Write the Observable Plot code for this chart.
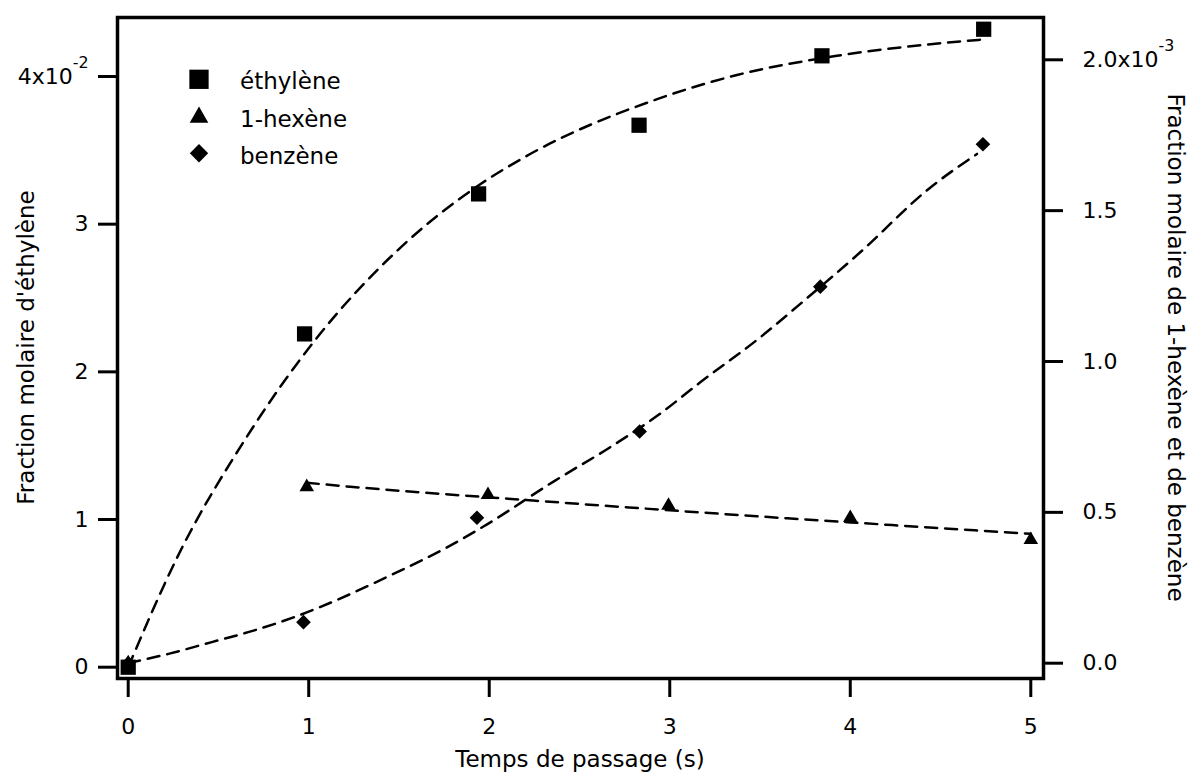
<!DOCTYPE html>
<html><head><meta charset="utf-8">
<script src="https://cdn.jsdelivr.net/npm/d3@7"></script>
<script src="https://cdn.jsdelivr.net/npm/@observablehq/plot@0.6"></script>
<style>
body{margin:0;background:#fff;}
#wrap{position:relative;width:1193px;height:775px;}
</style></head><body><div id="wrap"></div>
<script>
// ---- measured points ----
const ethTime = [0, 0.977, 1.941, 2.83, 3.843, 4.739];
const ethFrac = [0, 0.02257, 0.03205, 0.0367, 0.0414, 0.0432];          // left axis
const hexTime = [0, 0.989, 1.993, 2.993, 4.0, 5.0];
const hexFrac = [0, 0.584e-3, 0.558e-3, 0.5225e-3, 0.482e-3, 0.409e-3]; // right axis
const benTime = [0, 0.971, 1.932, 2.833, 3.834, 4.735];
const benFrac = [0, 0.136e-3, 0.482e-3, 0.768e-3, 1.248e-3, 1.72e-3];   // right axis

// ---- dashed fit curves, read along the dashes ----
const ethFitTime = [0, 0.27, 0.657, 1.032, 1.507, 1.95, 2.19, 2.938, 3.372, 3.926, 4.73];
const ethFitFrac = [0, 0.0074, 0.0156, 0.0221, 0.0284, 0.0327, 0.0345, 0.0385, 0.0401, 0.0414, 0.0425];
const hexFitTime = [0.989, 1.23, 2.245, 3.41, 5.0];
const hexFitFrac = [0.598e-3, 0.585e-3, 0.539e-3, 0.49e-3, 0.429e-3];
const benFitTime = [0, 0.223, 0.463, 0.694, 0.916, 1.47, 1.766, 1.968, 2.356, 2.67, 2.94, 3.169, 3.501, 3.723, 4.055, 4.434, 4.702];
const benFitFrac = [0, 0.031e-3, 0.07e-3, 0.108e-3, 0.152e-3, 0.296e-3, 0.384e-3, 0.453e-3, 0.602e-3, 0.716e-3, 0.824e-3, 0.931e-3, 1.08e-3, 1.191e-3, 1.362e-3, 1.572e-3, 1.688e-3];

// ---- ticks ----
const xTicks = [0, 1, 2, 3, 4, 5];
const leftTicks = [0, 0.01, 0.02, 0.03, 0.04];
const leftTickLabels = ["0", "1", "2", "3", "4x10^-2"];
const rightTicks = [0, 0.5e-3, 1.0e-3, 1.5e-3, 2.0e-3];
const rightTickLabels = ["0.0", "0.5", "1.0", "1.5", "2.0x10^-3"];

const seriesNames = ["éthylène", "1-hexène", "benzène"];

// ---- scales ----
const xDomain = [-0.0593, 5.0704];
const leftDomain = [-0.000765, 0.043995];
const rightDomain = [-0.0507e-3, 2.1402e-3];
const toLeft = v => leftDomain[0] + (v - rightDomain[0]) / (rightDomain[1] - rightDomain[0]) * (leftDomain[1] - leftDomain[0]);

const W = 1193, H = 775, mL = 117, mR = 150, mT = 17, mB = 97;
const FONT = "DejaVu Sans, sans-serif";

const zipL = (xs, ys) => xs.map((x, i) => ({x, y: ys[i]}));
const zipR = (xs, ys) => xs.map((x, i) => ({x, y: toLeft(ys[i])}));

const eth = zipL(ethTime, ethFrac), hex = zipR(hexTime, hexFrac), ben = zipR(benTime, benFrac);
const ethFit = zipL(ethFitTime, ethFitFrac), hexFit = zipR(hexFitTime, hexFitFrac), benFit = zipR(benFitTime, benFitFrac);

const leftLab = new Map(leftTicks.map((t, i) => [t, leftTickLabels[i]]));
const rightTicksL = rightTicks.map(toLeft);
const rightLab = new Map(rightTicksL.map((t, i) => [t, rightTickLabels[i]]));

const dash = {x: "x", y: "y", curve: "monotone-x", stroke: "black", strokeWidth: 2.5, strokeDasharray: "12,8"};

const svg = Plot.plot({
  width: W, height: H, marginLeft: mL, marginRight: mR, marginTop: mT, marginBottom: mB,
  style: {fontFamily: FONT, fontSize: "22px", color: "black", background: "white"},
  x: {domain: xDomain},
  y: {domain: leftDomain},
  marks: [
    Plot.axisX({ticks: xTicks, tickSize: 19, tickPadding: 21, strokeWidth: 3, tickFormat: d => String(d), label: null, fontSize: 22}),
    Plot.axisY({ticks: leftTicks, tickSize: 19, tickPadding: 10, strokeWidth: 3, tickFormat: d => leftLab.get(d), label: null, fontSize: 22}),
    Plot.axisY({anchor: "right", ticks: rightTicksL, tickSize: 19, tickPadding: 20, strokeWidth: 3, tickFormat: d => rightLab.get(d), label: null, fontSize: 22}),
    Plot.line(ethFit, dash),
    Plot.line(hexFit, dash),
    Plot.line(benFit, dash),
    Plot.dot(eth, {x: "x", y: "y", symbol: "square", r: 8.6, fill: "black", stroke: "none"}),
    Plot.dot(hex, {x: "x", y: "y", symbol: "triangle", r: 5.4, fill: "black", stroke: "none"}),
    Plot.dot(ben, {x: "x", y: "y", symbol: "diamond2", r: 6.6, fill: "black", stroke: "none"}),
    Plot.frame({stroke: "black", strokeWidth: 3.5})
  ]
});
document.getElementById("wrap").append(svg);

const s = d3.select(svg);
// superscripts in tick labels
s.selectAll("text").each(function () {
  const t = d3.select(this);
  const str = t.text();
  if (str.includes("^")) {
    const [base, sup] = str.split("^");
    t.text(null);
    t.append("tspan").text(base);
    t.append("tspan").attr("dy", "-1.0em").attr("font-size", "0.72em").text(sup);
  }
});

const cx = (mL + (W - mR)) / 2, cy = (mT + (H - mB)) / 2;
const g = s.append("g").attr("font-family", FONT).attr("font-size", 23).attr("fill", "black").attr("text-anchor", "middle");
g.append("text").attr("x", cx).attr("y", 767).text("Temps de passage (s)");
g.append("text").attr("transform", `translate(26,${cy}) rotate(-90)`).attr("dy", "0.35em").text("Fraction molaire d'éthylène");
g.append("text").attr("transform", `translate(1176,${cy}) rotate(90)`).attr("dy", "0.35em").text("Fraction molaire de 1-hexène et de benzène");

// legend
const legSyms = [d3.symbolSquare, d3.symbolTriangle, d3.symbolDiamond2];
const legSizes = [372, 150, 215];
const legSymY = [79.3, 117.3, 153.3];
const legTextY = [89, 126.5, 164];
const lg = s.append("g").attr("text-anchor", "start");
seriesNames.forEach((name, i) => {
  lg.append("path").attr("d", d3.symbol(legSyms[i], legSizes[i])()).attr("transform", `translate(199,${legSymY[i]})`).attr("fill", "black");
  lg.append("text").attr("x", 240).attr("y", legTextY[i]).attr("text-anchor", "start").attr("font-family", FONT).attr("font-size", 23).text(name);
});
</script></body></html>
